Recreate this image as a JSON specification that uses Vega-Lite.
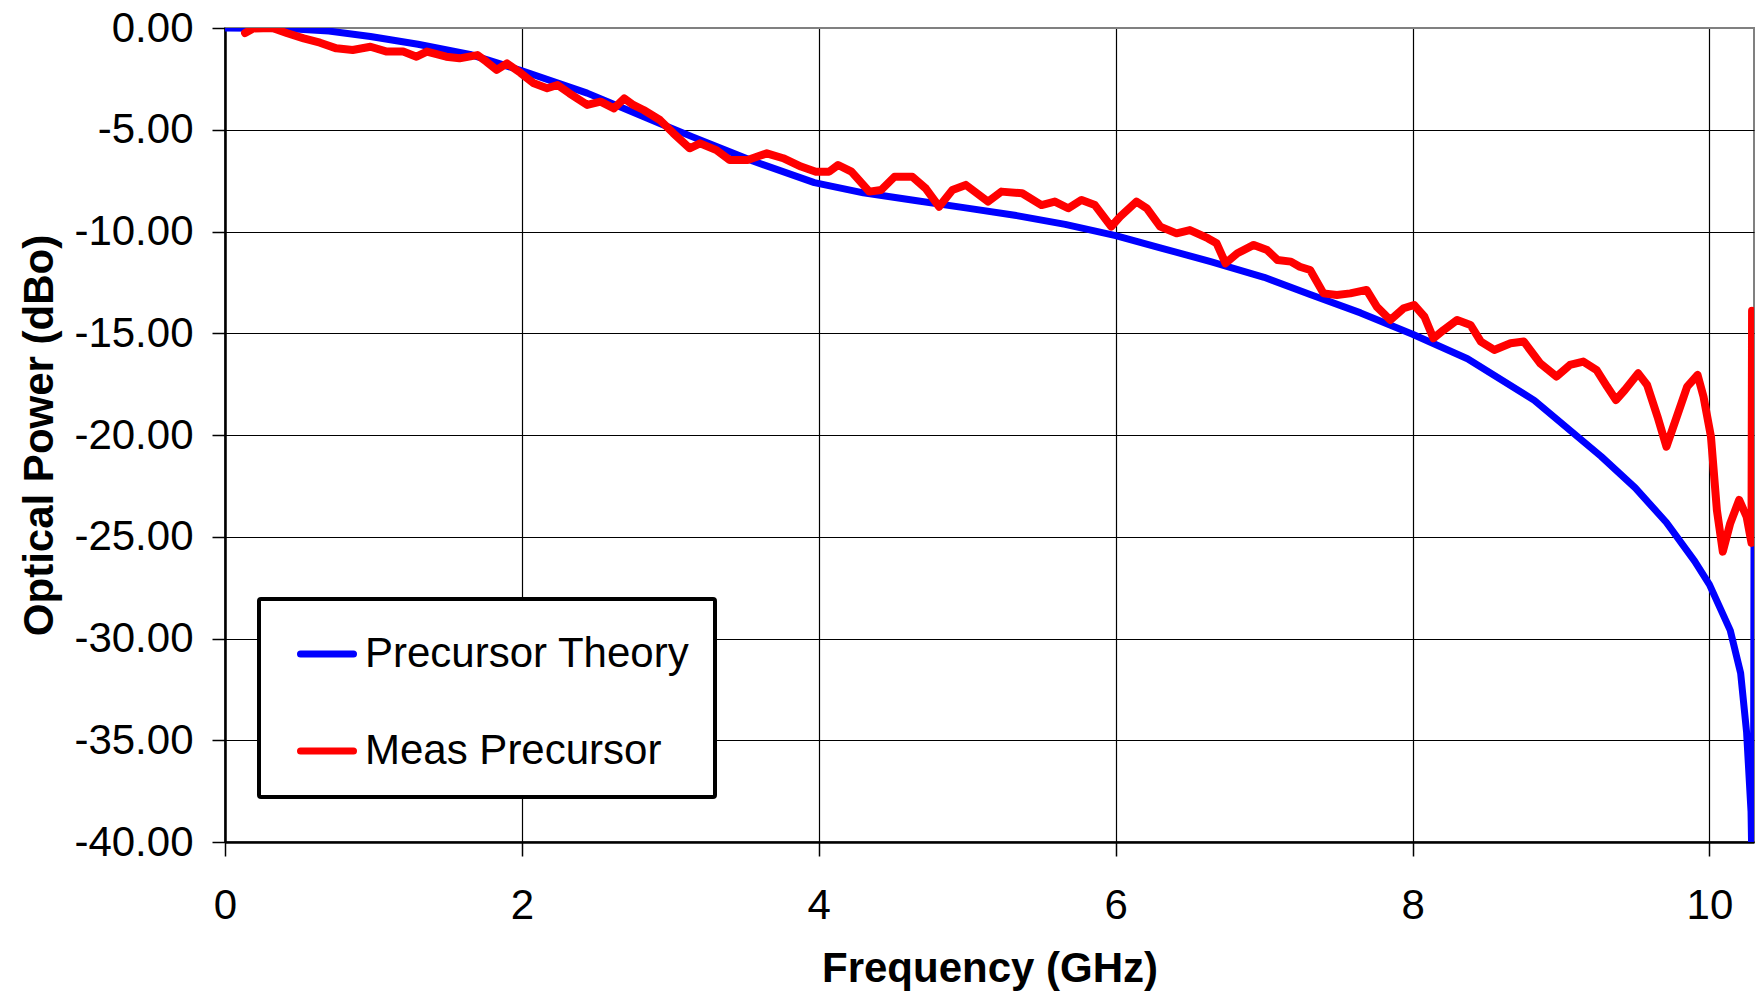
{
  "$schema": "https://vega.github.io/schema/vega-lite/v6.json",
  "autosize": "none",
  "padding": {"left": 225, "top": 28, "right": 2, "bottom": 153},
  "width": 1529,
  "height": 814,
  "background": "white",
  "config": {
    "view": {"stroke": "#808080", "strokeWidth": 2},
    "font": "Liberation Sans"
  },
  "datasets": {
    "theory": [
      {"f": 0, "p": 0, "series": "Precursor Theory"},
      {"f": 0.3, "p": -0.02, "series": "Precursor Theory"},
      {"f": 0.5, "p": -0.06, "series": "Precursor Theory"},
      {"f": 0.7, "p": -0.15, "series": "Precursor Theory"},
      {"f": 0.98, "p": -0.42, "series": "Precursor Theory"},
      {"f": 1.3, "p": -0.8, "series": "Precursor Theory"},
      {"f": 1.65, "p": -1.3, "series": "Precursor Theory"},
      {"f": 2.0, "p": -2.1, "series": "Precursor Theory"},
      {"f": 2.44, "p": -3.2, "series": "Precursor Theory"},
      {"f": 2.95, "p": -4.75, "series": "Precursor Theory"},
      {"f": 3.15, "p": -5.35, "series": "Precursor Theory"},
      {"f": 3.56, "p": -6.55, "series": "Precursor Theory"},
      {"f": 3.97, "p": -7.6, "series": "Precursor Theory"},
      {"f": 4.3, "p": -8.1, "series": "Precursor Theory"},
      {"f": 4.65, "p": -8.48, "series": "Precursor Theory"},
      {"f": 5.0, "p": -8.85, "series": "Precursor Theory"},
      {"f": 5.32, "p": -9.2, "series": "Precursor Theory"},
      {"f": 5.66, "p": -9.65, "series": "Precursor Theory"},
      {"f": 6.0, "p": -10.2, "series": "Precursor Theory"},
      {"f": 6.3, "p": -10.8, "series": "Precursor Theory"},
      {"f": 6.64, "p": -11.48, "series": "Precursor Theory"},
      {"f": 7.0, "p": -12.25, "series": "Precursor Theory"},
      {"f": 7.31, "p": -13.1, "series": "Precursor Theory"},
      {"f": 7.65, "p": -14.0, "series": "Precursor Theory"},
      {"f": 8.0, "p": -15.05, "series": "Precursor Theory"},
      {"f": 8.37, "p": -16.25, "series": "Precursor Theory"},
      {"f": 8.82, "p": -18.3, "series": "Precursor Theory"},
      {"f": 9.27, "p": -21.05, "series": "Precursor Theory"},
      {"f": 9.5, "p": -22.6, "series": "Precursor Theory"},
      {"f": 9.71, "p": -24.3, "series": "Precursor Theory"},
      {"f": 9.9, "p": -26.2, "series": "Precursor Theory"},
      {"f": 10.0, "p": -27.35, "series": "Precursor Theory"},
      {"f": 10.14, "p": -29.6, "series": "Precursor Theory"},
      {"f": 10.21, "p": -31.7, "series": "Precursor Theory"},
      {"f": 10.25, "p": -34.6, "series": "Precursor Theory"},
      {"f": 10.28, "p": -38.5, "series": "Precursor Theory"},
      {"f": 10.295, "p": -45, "series": "Precursor Theory"},
      {"f": 10.3, "p": -25.5, "series": "Precursor Theory"}
    ],
    "meas": [
      {"f": 0.135, "p": -0.25, "series": "Meas Precursor"},
      {"f": 0.19, "p": -0.02, "series": "Meas Precursor"},
      {"f": 0.32, "p": 0, "series": "Meas Precursor"},
      {"f": 0.42, "p": -0.26, "series": "Meas Precursor"},
      {"f": 0.53, "p": -0.51, "series": "Meas Precursor"},
      {"f": 0.64, "p": -0.72, "series": "Meas Precursor"},
      {"f": 0.75, "p": -1.0, "series": "Meas Precursor"},
      {"f": 0.86, "p": -1.08, "series": "Meas Precursor"},
      {"f": 0.98, "p": -0.92, "series": "Meas Precursor"},
      {"f": 1.09, "p": -1.16, "series": "Meas Precursor"},
      {"f": 1.2, "p": -1.16, "series": "Meas Precursor"},
      {"f": 1.29, "p": -1.41, "series": "Meas Precursor"},
      {"f": 1.36, "p": -1.16, "series": "Meas Precursor"},
      {"f": 1.49, "p": -1.41, "series": "Meas Precursor"},
      {"f": 1.58, "p": -1.49, "series": "Meas Precursor"},
      {"f": 1.7, "p": -1.33, "series": "Meas Precursor"},
      {"f": 1.76, "p": -1.65, "series": "Meas Precursor"},
      {"f": 1.83, "p": -2.06, "series": "Meas Precursor"},
      {"f": 1.9, "p": -1.74, "series": "Meas Precursor"},
      {"f": 1.99, "p": -2.2, "series": "Meas Precursor"},
      {"f": 2.05, "p": -2.55, "series": "Meas Precursor"},
      {"f": 2.08, "p": -2.72, "series": "Meas Precursor"},
      {"f": 2.17, "p": -2.96, "series": "Meas Precursor"},
      {"f": 2.24, "p": -2.8, "series": "Meas Precursor"},
      {"f": 2.32, "p": -3.21, "series": "Meas Precursor"},
      {"f": 2.44, "p": -3.78, "series": "Meas Precursor"},
      {"f": 2.53, "p": -3.62, "series": "Meas Precursor"},
      {"f": 2.62, "p": -3.95, "series": "Meas Precursor"},
      {"f": 2.69, "p": -3.46, "series": "Meas Precursor"},
      {"f": 2.75, "p": -3.78, "series": "Meas Precursor"},
      {"f": 2.82, "p": -4.03, "series": "Meas Precursor"},
      {"f": 2.93, "p": -4.52, "series": "Meas Precursor"},
      {"f": 3.02, "p": -5.17, "series": "Meas Precursor"},
      {"f": 3.13, "p": -5.91, "series": "Meas Precursor"},
      {"f": 3.2, "p": -5.67, "series": "Meas Precursor"},
      {"f": 3.31, "p": -6.0, "series": "Meas Precursor"},
      {"f": 3.4, "p": -6.49, "series": "Meas Precursor"},
      {"f": 3.52, "p": -6.49, "series": "Meas Precursor"},
      {"f": 3.65, "p": -6.16, "series": "Meas Precursor"},
      {"f": 3.76, "p": -6.4, "series": "Meas Precursor"},
      {"f": 3.88, "p": -6.81, "series": "Meas Precursor"},
      {"f": 3.98, "p": -7.06, "series": "Meas Precursor"},
      {"f": 4.07, "p": -7.06, "series": "Meas Precursor"},
      {"f": 4.13, "p": -6.73, "series": "Meas Precursor"},
      {"f": 4.22, "p": -7.06, "series": "Meas Precursor"},
      {"f": 4.34, "p": -8.04, "series": "Meas Precursor"},
      {"f": 4.42, "p": -7.96, "series": "Meas Precursor"},
      {"f": 4.51, "p": -7.31, "series": "Meas Precursor"},
      {"f": 4.63, "p": -7.31, "series": "Meas Precursor"},
      {"f": 4.72, "p": -7.88, "series": "Meas Precursor"},
      {"f": 4.81, "p": -8.78, "series": "Meas Precursor"},
      {"f": 4.9, "p": -7.96, "series": "Meas Precursor"},
      {"f": 4.99, "p": -7.71, "series": "Meas Precursor"},
      {"f": 5.14, "p": -8.53, "series": "Meas Precursor"},
      {"f": 5.23, "p": -8.04, "series": "Meas Precursor"},
      {"f": 5.37, "p": -8.12, "series": "Meas Precursor"},
      {"f": 5.5, "p": -8.7, "series": "Meas Precursor"},
      {"f": 5.59, "p": -8.53, "series": "Meas Precursor"},
      {"f": 5.68, "p": -8.86, "series": "Meas Precursor"},
      {"f": 5.77, "p": -8.45, "series": "Meas Precursor"},
      {"f": 5.86, "p": -8.7, "series": "Meas Precursor"},
      {"f": 5.97, "p": -9.76, "series": "Meas Precursor"},
      {"f": 6.03, "p": -9.27, "series": "Meas Precursor"},
      {"f": 6.14, "p": -8.53, "series": "Meas Precursor"},
      {"f": 6.21, "p": -8.86, "series": "Meas Precursor"},
      {"f": 6.3, "p": -9.76, "series": "Meas Precursor"},
      {"f": 6.41, "p": -10.09, "series": "Meas Precursor"},
      {"f": 6.5, "p": -9.93, "series": "Meas Precursor"},
      {"f": 6.62, "p": -10.33, "series": "Meas Precursor"},
      {"f": 6.68, "p": -10.58, "series": "Meas Precursor"},
      {"f": 6.74, "p": -11.56, "series": "Meas Precursor"},
      {"f": 6.82, "p": -11.07, "series": "Meas Precursor"},
      {"f": 6.93, "p": -10.66, "series": "Meas Precursor"},
      {"f": 7.02, "p": -10.91, "series": "Meas Precursor"},
      {"f": 7.09, "p": -11.4, "series": "Meas Precursor"},
      {"f": 7.18, "p": -11.48, "series": "Meas Precursor"},
      {"f": 7.24, "p": -11.73, "series": "Meas Precursor"},
      {"f": 7.31, "p": -11.89, "series": "Meas Precursor"},
      {"f": 7.4, "p": -13.04, "series": "Meas Precursor"},
      {"f": 7.49, "p": -13.12, "series": "Meas Precursor"},
      {"f": 7.58, "p": -13.04, "series": "Meas Precursor"},
      {"f": 7.69, "p": -12.87, "series": "Meas Precursor"},
      {"f": 7.76, "p": -13.7, "series": "Meas Precursor"},
      {"f": 7.85, "p": -14.35, "series": "Meas Precursor"},
      {"f": 7.94, "p": -13.77, "series": "Meas Precursor"},
      {"f": 8.01, "p": -13.61, "series": "Meas Precursor"},
      {"f": 8.08, "p": -14.19, "series": "Meas Precursor"},
      {"f": 8.14, "p": -15.25, "series": "Meas Precursor"},
      {"f": 8.21, "p": -14.84, "series": "Meas Precursor"},
      {"f": 8.3, "p": -14.35, "series": "Meas Precursor"},
      {"f": 8.39, "p": -14.59, "series": "Meas Precursor"},
      {"f": 8.46, "p": -15.41, "series": "Meas Precursor"},
      {"f": 8.55, "p": -15.82, "series": "Meas Precursor"},
      {"f": 8.66, "p": -15.49, "series": "Meas Precursor"},
      {"f": 8.75, "p": -15.41, "series": "Meas Precursor"},
      {"f": 8.86, "p": -16.48, "series": "Meas Precursor"},
      {"f": 8.97, "p": -17.13, "series": "Meas Precursor"},
      {"f": 9.06, "p": -16.56, "series": "Meas Precursor"},
      {"f": 9.15, "p": -16.39, "series": "Meas Precursor"},
      {"f": 9.24, "p": -16.81, "series": "Meas Precursor"},
      {"f": 9.31, "p": -17.62, "series": "Meas Precursor"},
      {"f": 9.37, "p": -18.28, "series": "Meas Precursor"},
      {"f": 9.43, "p": -17.79, "series": "Meas Precursor"},
      {"f": 9.52, "p": -16.97, "series": "Meas Precursor"},
      {"f": 9.58, "p": -17.54, "series": "Meas Precursor"},
      {"f": 9.65, "p": -19.1, "series": "Meas Precursor"},
      {"f": 9.71, "p": -20.57, "series": "Meas Precursor"},
      {"f": 9.78, "p": -19.1, "series": "Meas Precursor"},
      {"f": 9.85, "p": -17.62, "series": "Meas Precursor"},
      {"f": 9.92, "p": -17.05, "series": "Meas Precursor"},
      {"f": 9.96, "p": -18.12, "series": "Meas Precursor"},
      {"f": 10.01, "p": -20.08, "series": "Meas Precursor"},
      {"f": 10.05, "p": -23.69, "series": "Meas Precursor"},
      {"f": 10.09, "p": -25.73, "series": "Meas Precursor"},
      {"f": 10.14, "p": -24.34, "series": "Meas Precursor"},
      {"f": 10.2, "p": -23.19, "series": "Meas Precursor"},
      {"f": 10.25, "p": -24.01, "series": "Meas Precursor"},
      {"f": 10.283, "p": -25.3, "series": "Meas Precursor"},
      {"f": 10.287, "p": -13.9, "series": "Meas Precursor"}
    ]
  },
  "encoding": {
    "x": {
      "field": "f",
      "type": "quantitative",
      "scale": {"domain": [0, 10.3], "nice": false, "zero": false},
      "axis": {
        "title": "Frequency (GHz)",
        "values": [0, 2, 4, 6, 8, 10],
        "format": "d",
        "grid": true,
        "gridColor": "black",
        "gridWidth": 1.2,
        "domainColor": "black",
        "domainWidth": 2.5,
        "tickColor": "black",
        "tickWidth": 1.5,
        "tickSize": 14,
        "labelFont": "Liberation Sans",
        "labelFontSize": 42,
        "labelColor": "black",
        "labelPadding": 29,
        "labelFlush": false,
        "titleFont": "Liberation Sans",
        "titleFontSize": 42,
        "titleFontWeight": "bold",
        "titleColor": "black",
        "titlePadding": 22
      }
    },
    "y": {
      "field": "p",
      "type": "quantitative",
      "scale": {"domain": [-40, 0], "nice": false, "zero": false},
      "axis": {
        "title": "Optical Power (dBo)",
        "values": [-40, -35, -30, -25, -20, -15, -10, -5, 0],
        "format": ".2f",
        "labelExpr": "replace(datum.label, '\u2212', '-')",
        "grid": true,
        "gridColor": {"condition": {"test": "datum.value == 0", "value": "#808080"}, "value": "black"},
        "gridWidth": 1.2,
        "domainColor": "black",
        "domainWidth": 2.5,
        "tickColor": "black",
        "tickWidth": 1.5,
        "tickSize": 13,
        "labelFont": "Liberation Sans",
        "labelFontSize": 42,
        "labelColor": "black",
        "labelPadding": 19,
        "labelFlush": false,
        "titleFont": "Liberation Sans",
        "titleFontSize": 42,
        "titleFontWeight": "bold",
        "titleColor": "black",
        "titlePadding": 12
      }
    },
    "color": {
      "field": "series",
      "type": "nominal",
      "scale": {"domain": ["Precursor Theory", "Meas Precursor"], "range": ["#0000FF", "#FF0000"]},
      "legend": {
        "title": null,
        "orient": "none",
        "legendX": 34,
        "legendY": 571,
        "direction": "vertical",
        "strokeColor": "black",
        "fillColor": "white",
        "padding": 25,
        "cornerRadius": 2,
        "rowPadding": 46,
        "symbolType": "stroke",
        "symbolSize": 2809,
        "symbolStrokeWidth": 7,
        "symbolOffset": 13,
        "labelFont": "Liberation Sans",
        "labelFontSize": 42,
        "labelColor": "black",
        "labelOffset": 8,
        "labelLimit": 1000,
        "encode": {
          "legend": {"update": {"strokeWidth": {"value": 4}}},
          "symbols": {"update": {"strokeCap": {"value": "round"}}}
        }
      }
    }
  },
  "layer": [
    {
      "data": {"name": "theory"},
      "mark": {"type": "line", "strokeWidth": 7, "strokeJoin": "round", "strokeCap": "round", "clip": true}
    },
    {
      "data": {"name": "meas"},
      "mark": {"type": "line", "strokeWidth": 8, "strokeJoin": "round", "strokeCap": "round", "clip": true}
    }
  ]
}
